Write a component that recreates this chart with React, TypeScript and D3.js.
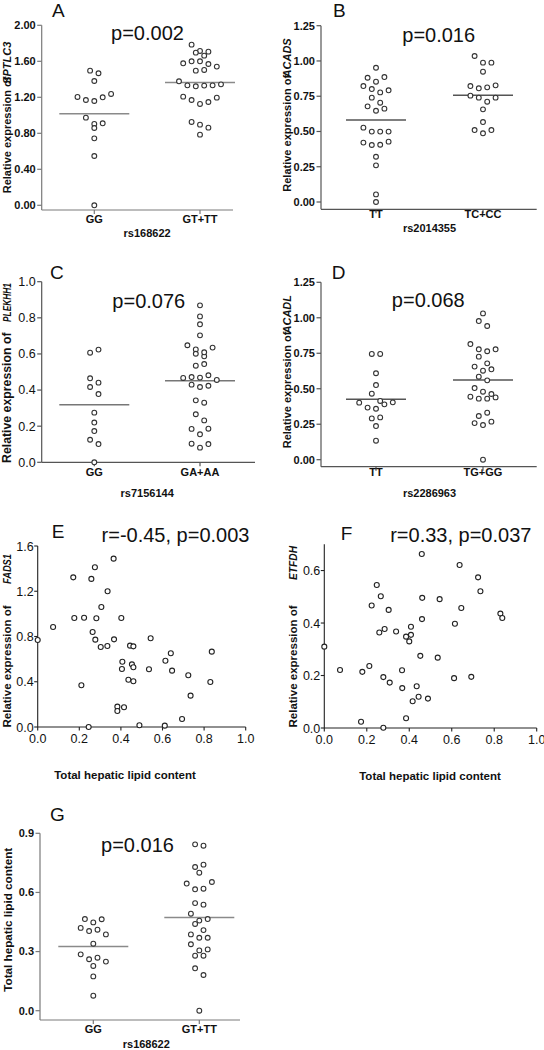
import React from 'react';
import * as d3 from 'd3';

const FONT = '"Liberation Sans", Arial, Helvetica, sans-serif';

// ---------- Panel A : SPTLC3 by rs168622 ----------
const A_CATS = ['GG', 'GT+TT'];
const A_GG = [1.496, 1.467, 1.381, 1.204, 1.17, 1.159, 1.2, 1.237, 0.974, 0.904, 0.859, 0.911, 0.744, 0.548, 0.0];
const A_GTTT = [1.785, 1.715, 1.696, 1.707, 1.663, 1.578, 1.6, 1.6, 1.57, 1.541, 1.496, 1.504, 1.378, 1.333, 1.322, 1.33, 1.333, 1.344, 1.207, 1.17, 1.126, 1.148, 1.196, 0.926, 0.896, 0.863, 0.785];
const A_TICKS = [0, 0.4, 0.8, 1.2, 1.6, 2.0];

// ---------- Panel B : ACADS by rs2014355 ----------
const B_CATS = ['TT', 'TC+CC'];
const B_TT = [0.952, 0.881, 0.853, 0.886, 0.822, 0.801, 0.777, 0.792, 0.74, 0.704, 0.678, 0.647, 0.662, 0.527, 0.499, 0.499, 0.499, 0.421, 0.404, 0.406, 0.428, 0.321, 0.26, 0.054, 0.0];
const B_TCCC = [1.035, 0.988, 0.988, 0.924, 0.822, 0.806, 0.813, 0.827, 0.754, 0.74, 0.711, 0.74, 0.657, 0.567, 0.51, 0.487, 0.51];
const B_TICKS = [0, 0.25, 0.5, 0.75, 1.0, 1.25];

// ---------- Panel C : PLEKHH1 by rs7156144 ----------
const C_CATS = ['GG', 'GA+AA'];
const C_GG = [0.607, 0.624, 0.465, 0.441, 0.417, 0.378, 0.275, 0.22, 0.173, 0.125, 0.101, 0.0];
const C_GAAA = [0.869, 0.808, 0.764, 0.703, 0.648, 0.625, 0.601, 0.587, 0.609, 0.635, 0.535, 0.544, 0.467, 0.472, 0.469, 0.482, 0.456, 0.43, 0.417, 0.424, 0.343, 0.33, 0.266, 0.232, 0.185, 0.155, 0.186, 0.103, 0.081, 0.101];
const C_TICKS = [0, 0.2, 0.4, 0.6, 0.8, 1.0];

// ---------- Panel D : ACADL by rs2286963 ----------
const D_CATS = ['TT', 'TG+GG'];
const D_TT = [0.745, 0.745, 0.609, 0.526, 0.465, 0.402, 0.414, 0.367, 0.359, 0.39, 0.404, 0.291, 0.298, 0.237, 0.134];
const D_TGGG = [1.031, 0.977, 0.942, 0.815, 0.778, 0.764, 0.726, 0.778, 0.656, 0.627, 0.637, 0.679, 0.585, 0.559, 0.505, 0.479, 0.444, 0.43, 0.43, 0.439, 0.463, 0.308, 0.331, 0.258, 0.244, 0.268, 0.0];
const D_TICKS = [0, 0.25, 0.5, 0.75, 1.0, 1.25];

// ---------- Panel E : FADS1 vs lipid ----------
const E_LIPID = [0.365, 0.275, 0.171, 0.258, 0.336, 0.306, 0.176, 0.223, 0.282, 0.402, 0.074, 0, 0.264, 0.277, 0.303, 0.335, 0.367, 0.444, 0.46, 0.543, 0.407, 0.405, 0.453, 0.46, 0.535, 0.436, 0.46, 0.614, 0.64, 0.646, 0.724, 0.837, 0.83, 0.735, 0.21, 0.383, 0.415, 0.383, 0.245, 0.489, 0.611, 0.694];
const E_FADS1 = [1.488, 1.412, 1.323, 1.309, 1.2, 1.061, 0.964, 0.966, 0.961, 0.964, 0.884, 0.769, 0.84, 0.772, 0.707, 0.716, 0.775, 0.719, 0.713, 0.784, 0.577, 0.513, 0.554, 0.528, 0.51, 0.418, 0.404, 0.586, 0.652, 0.498, 0.457, 0.666, 0.398, 0.277, 0.369, 0.18, 0.174, 0.141, 0.0, 0.015, 0.012, 0.071];
const E_YTICKS = [0, 0.4, 0.8, 1.2, 1.6];

// ---------- Panel F : ETFDH vs lipid ----------
const F_LIPID = [0.459, 0.637, 0.724, 0.735, 0.247, 0.266, 0.223, 0.303, 0.461, 0.543, 0.645, 0.829, 0.838, 0.46, 0.615, 0.259, 0.284, 0.338, 0.385, 0.408, 0.408, 0.4, 0, 0.452, 0.534, 0.074, 0.179, 0.212, 0.366, 0.278, 0.308, 0.367, 0.435, 0.611, 0.692, 0.444, 0.488, 0.416, 0.173, 0.278, 0.385];
const F_ETFDH = [0.663, 0.621, 0.574, 0.521, 0.545, 0.502, 0.467, 0.45, 0.496, 0.491, 0.457, 0.436, 0.419, 0.415, 0.397, 0.364, 0.377, 0.368, 0.348, 0.386, 0.355, 0.33, 0.31, 0.275, 0.268, 0.221, 0.214, 0.236, 0.22, 0.194, 0.173, 0.152, 0.159, 0.19, 0.195, 0.119, 0.112, 0.102, 0.024, 0.001, 0.037];
const F_YTICKS = [0, 0.2, 0.4, 0.6];
const LIPID_TICKS = [0, 0.2, 0.4, 0.6, 0.8, 1.0];

// ---------- Panel G : lipid by rs168622 ----------
const G_CATS = ['GG', 'GT+TT'];
const G_GG = [0.465, 0.448, 0.464, 0.42, 0.404, 0.411, 0.387, 0.34, 0.286, 0.261, 0.269, 0.249, 0.227, 0.174, 0.076];
const G_GTTT = [0.844, 0.837, 0.729, 0.741, 0.7, 0.645, 0.616, 0.619, 0.653, 0.546, 0.538, 0.492, 0.457, 0.465, 0.44, 0.409, 0.387, 0.37, 0.37, 0.337, 0.306, 0.279, 0.279, 0.311, 0.215, 0.181, 0.0];
const G_TICKS = [0, 0.3, 0.6, 0.9];

// beeswarm-like row layout (Prism style): rows of nearby points centred on the category
function swarmOffsets(pix: number[], step: number, th: number): number[] {
  const idx = pix.map((_, i) => i).sort((a, b) => pix[a] - pix[b]);
  const out = new Array(pix.length).fill(0);
  let row: number[] = [];
  const flush = () => {
    const r = [...row].sort((a, b) => a - b);
    r.forEach((id, j) => (out[id] = (j - (r.length - 1) / 2) * step));
    row = [];
  };
  for (const id of idx) {
    if (row.length && pix[id] - pix[row[0]] > th) flush();
    row.push(id);
  }
  flush();
  return out;
}

type YLab = { x: number; yStart: number; main: string; mainSize: number; gene?: string; geneEnd?: number; geneSize?: number; geneLen?: number };

function YLabel({ l }: { l: YLab }) {
  return (
    <g>
      <text transform={`translate(${l.x},${l.yStart}) rotate(-90)`} fontSize={l.mainSize} fontWeight="bold" fontFamily={FONT} fill="#111">
        {l.main}
      </text>
      {l.gene && (
        <text
          transform={`translate(${l.x},${l.geneEnd}) rotate(-90)`}
          textAnchor="end"
          fontSize={l.geneSize}
          fontWeight="bold"
          fontStyle="italic"
          fontFamily={FONT}
          fill="#111"
          {...(l.geneLen ? { textLength: l.geneLen, lengthAdjust: 'spacingAndGlyphs' } : {})}
        >
          {l.gene}
        </text>
      )}
    </g>
  );
}

type CatCfg = {
  letter: string; letterX: number; letterY: number;
  pText: string; pX: number; pY: number;
  cats: string[]; series: number[][]; snp: string;
  yMax: number; ticks: number[]; fmt: string; tickBold: boolean; tickSize: number;
  x0: number; x1: number; catX: [number, number];
  y0: number; yTop: number; axisBottom: number;
  catLabelY: number; snpY: number; ylab: YLab;
  axisColor: string; meanColor: string; meanHalf: number;
};

function CatPanel({ c }: { c: CatCfg }) {
  const y = d3.scaleLinear().domain([0, c.yMax]).range([c.y0, c.yTop]);
  const x = d3.scalePoint<string>().domain(c.cats).range(c.catX);
  const f = d3.format(c.fmt);
  return (
    <g>
      <text x={c.letterX} y={c.letterY} fontSize={19} fontFamily={FONT} fill="#111">{c.letter}</text>
      <text x={c.pX} y={c.pY} fontSize={20} fontFamily={FONT} textAnchor="middle" fill="#111">{c.pText}</text>
      <line x1={c.x0} x2={c.x0} y1={y(c.yMax)} y2={c.axisBottom} stroke={c.axisColor} strokeWidth={1.2} />
      <line x1={c.x0} x2={c.x1} y1={c.axisBottom} y2={c.axisBottom} stroke={c.axisColor} strokeWidth={1.2} />
      {c.ticks.map((t) => (
        <g key={t}>
          <line x1={c.x0 - 4.5} x2={c.x0} y1={y(t)} y2={y(t)} stroke={c.axisColor} strokeWidth={1.2} />
          <text x={c.x0 - 6} y={y(t)} dy="0.35em" textAnchor="end" fontSize={c.tickSize} fontWeight={c.tickBold ? 'bold' : 'normal'} fontFamily={FONT} fill="#111">
            {f(t)}
          </text>
        </g>
      ))}
      {c.cats.map((cat) => (
        <g key={cat}>
          <line x1={x(cat)} x2={x(cat)} y1={c.axisBottom} y2={c.axisBottom + 4} stroke={c.axisColor} strokeWidth={1.2} />
          <text x={x(cat)} y={c.catLabelY} textAnchor="middle" fontSize={11} fontWeight="bold" fontFamily={FONT} fill="#111">{cat}</text>
        </g>
      ))}
      <text x={(c.catX[0] + c.catX[1]) / 2} y={c.snpY} textAnchor="middle" fontSize={11} fontWeight="bold" fontFamily={FONT} fill="#111">{c.snp}</text>
      <YLabel l={c.ylab} />
      {c.series.map((vals, si) => {
        const cx = x(c.cats[si]) as number;
        const pix = vals.map((v) => y(v));
        const off = swarmOffsets(pix, 8.4, 7.5);
        const m = d3.mean(vals) as number;
        return (
          <g key={si}>
            <line x1={cx - c.meanHalf} x2={cx + c.meanHalf} y1={y(m)} y2={y(m)} stroke={c.meanColor} strokeWidth={1.5} />
            {vals.map((v, i) => (
              <circle key={i} cx={cx + off[i]} cy={pix[i]} r={2.4} fill="#fff" stroke="#333" strokeWidth={1.1} />
            ))}
          </g>
        );
      })}
    </g>
  );
}

type ScCfg = {
  letter: string; letterX: number; letterY: number;
  pText: string; pX: number; pY: number;
  xs: number[]; ys: number[]; yMax: number; yTicks: number[];
  x0: number; x1: number; y0: number; yTop: number;
  ylab: YLab; xTitleX: number;
};

function ScatterPanel({ c }: { c: ScCfg }) {
  const x = d3.scaleLinear().domain([0, 1]).range([c.x0, c.x1]);
  const y = d3.scaleLinear().domain([0, c.yMax]).range([c.y0, c.yTop]);
  const f = d3.format('.1f');
  return (
    <g>
      <text x={c.letterX} y={c.letterY} fontSize={19} fontFamily={FONT} fill="#111">{c.letter}</text>
      <text x={c.pX} y={c.pY} fontSize={20} fontFamily={FONT} textAnchor="middle" fill="#111">{c.pText}</text>
      <line x1={c.x0} x2={c.x0} y1={c.yTop} y2={c.y0} stroke="#222" strokeWidth={1.1} />
      <line x1={c.x0} x2={c.x1} y1={c.y0} y2={c.y0} stroke="#222" strokeWidth={1.1} />
      {c.yTicks.map((t) => (
        <g key={t}>
          <line x1={c.x0 - 3.5} x2={c.x0} y1={y(t)} y2={y(t)} stroke="#222" strokeWidth={1.1} />
          <text x={c.x0 - 4} y={y(t)} dy="0.36em" textAnchor="end" fontSize={12.5} fontFamily={FONT} fill="#111">{f(t)}</text>
        </g>
      ))}
      {LIPID_TICKS.map((t) => (
        <g key={t}>
          <line x1={x(t)} x2={x(t)} y1={c.y0} y2={c.y0 + 3.5} stroke="#222" strokeWidth={1.1} />
          <text x={x(t)} y={c.y0 + 16} textAnchor="middle" fontSize={12.5} fontFamily={FONT} fill="#111">{f(t)}</text>
        </g>
      ))}
      <text x={c.xTitleX} y={c.y0 + 52} textAnchor="middle" fontSize={11.5} fontWeight="bold" fontFamily={FONT} fill="#111">Total hepatic lipid content</text>
      <YLabel l={c.ylab} />
      {c.xs.map((xv, i) => (
        <circle key={i} cx={x(xv)} cy={y(c.ys[i])} r={2.5} fill="#fff" stroke="#222" strokeWidth={1.1} />
      ))}
    </g>
  );
}

const panelA: CatCfg = {
  letter: 'A', letterX: 52, letterY: 16.5, pText: 'p=0.002', pX: 147.5, pY: 40,
  cats: A_CATS, series: [A_GG, A_GTTT], snp: 'rs168622',
  yMax: 2.0, ticks: A_TICKS, fmt: '.2f', tickBold: true, tickSize: 11,
  x0: 41.7, x1: 233, catX: [94.3, 200], y0: 205.3, yTop: 25.3, axisBottom: 210,
  catLabelY: 222.7, snpY: 237.3,
  ylab: { x: 10.5, yStart: 193.3, main: 'Relative expression of', mainSize: 11, gene: 'SPTLC3', geneEnd: 41.7, geneSize: 11 },
  axisColor: '#7a7a7a', meanColor: '#8a8a8a', meanHalf: 35,
};
const panelB: CatCfg = {
  letter: 'B', letterX: 333, letterY: 16.5, pText: 'p=0.016', pX: 438.7, pY: 41.7,
  cats: B_CATS, series: [B_TT, B_TCCC], snp: 'rs2014355',
  yMax: 1.25, ticks: B_TICKS, fmt: '.2f', tickBold: true, tickSize: 11,
  x0: 321, x1: 536.7, catX: [376, 483], y0: 202, yTop: 25.7, axisBottom: 209.3,
  catLabelY: 217.5, snpY: 231.5,
  ylab: { x: 291, yStart: 191.7, main: 'Relative expression of', mainSize: 11, gene: 'ACADS', geneEnd: 38.3, geneSize: 11 },
  axisColor: '#555', meanColor: '#555', meanHalf: 30,
};
const panelC: CatCfg = {
  letter: 'C', letterX: 50, letterY: 278.5, pText: 'p=0.076', pX: 148.8, pY: 308.3,
  cats: C_CATS, series: [C_GG, C_GAAA], snp: 'rs7156144',
  yMax: 1.0, ticks: C_TICKS, fmt: '.1f', tickBold: false, tickSize: 12.5,
  x0: 41.7, x1: 255, catX: [94.3, 200], y0: 462.3, yTop: 281.7, axisBottom: 462.3,
  catLabelY: 475.5, snpY: 496.5,
  ylab: { x: 10.6, yStart: 463, main: 'Relative expression of', mainSize: 12.3, gene: 'PLEKHH1', geneEnd: 283, geneSize: 11, geneLen: 39 },
  axisColor: '#555', meanColor: '#777', meanHalf: 35,
};
const panelD: CatCfg = {
  letter: 'D', letterX: 331.7, letterY: 279, pText: 'p=0.068', pX: 428.3, pY: 306.7,
  cats: D_CATS, series: [D_TT, D_TGGG], snp: 'rs2286963',
  yMax: 1.25, ticks: D_TICKS, fmt: '.2f', tickBold: true, tickSize: 11,
  x0: 321, x1: 536.7, catX: [376, 483], y0: 459.7, yTop: 282.3, axisBottom: 466.7,
  catLabelY: 475.5, snpY: 496.5,
  ylab: { x: 290.6, yStart: 448.3, main: 'Relative expression of', mainSize: 11, gene: 'ACADL', geneEnd: 295, geneSize: 11 },
  axisColor: '#555', meanColor: '#555', meanHalf: 30,
};
const panelG: CatCfg = {
  letter: 'G', letterX: 50, letterY: 820.7, pText: 'p=0.016', pX: 137.5, pY: 851.7,
  cats: G_CATS, series: [G_GG, G_GTTT], snp: 'rs168622',
  yMax: 0.9, ticks: G_TICKS, fmt: '.1f', tickBold: true, tickSize: 11,
  x0: 40, x1: 240, catX: [93.3, 199.3], y0: 1010.7, yTop: 833.3, axisBottom: 1020,
  catLabelY: 1033.3, snpY: 1047.5,
  ylab: { x: 11.7, yStart: 991.7, main: 'Total hepatic lipid content', mainSize: 11.7 },
  axisColor: '#7a7a7a', meanColor: '#8a8a8a', meanHalf: 35,
};
const panelE: ScCfg = {
  letter: 'E', letterX: 51.7, letterY: 538.3, pText: 'r=-0.45, p=0.003', pX: 175.5, pY: 541.7,
  xs: E_LIPID, ys: E_FADS1, yMax: 1.6, yTicks: E_YTICKS,
  x0: 37.7, x1: 245.7, y0: 727, yTop: 546,
  ylab: { x: 10.5, yStart: 727.5, main: 'Relative expression of', mainSize: 11.5, gene: 'FADS1', geneEnd: 554, geneSize: 11, geneLen: 30 },
  xTitleX: 125,
};
const panelF: ScCfg = {
  letter: 'F', letterX: 340.7, letterY: 540, pText: 'r=0.33, p=0.037', pX: 460.8, pY: 541.7,
  xs: F_LIPID, ys: F_ETFDH, yMax: 0.7, yTicks: F_YTICKS,
  x0: 324.3, x1: 536.7, y0: 728, yTop: 544.3,
  ylab: { x: 296.5, yStart: 727.5, main: 'Relative expression of', mainSize: 11.5, gene: 'ETFDH', geneEnd: 546, geneSize: 11, geneLen: 34 },
  xTitleX: 430,
};

export default function App() {
  return (
    <svg width={544} height={1050} style={{ position: 'absolute', left: 0, top: 0, background: '#fff' }}>
      <rect width={544} height={1050} fill="#fff" />
      <CatPanel c={panelA} />
      <CatPanel c={panelB} />
      <CatPanel c={panelC} />
      <CatPanel c={panelD} />
      <ScatterPanel c={panelE} />
      <ScatterPanel c={panelF} />
      <CatPanel c={panelG} />
    </svg>
  );
}
